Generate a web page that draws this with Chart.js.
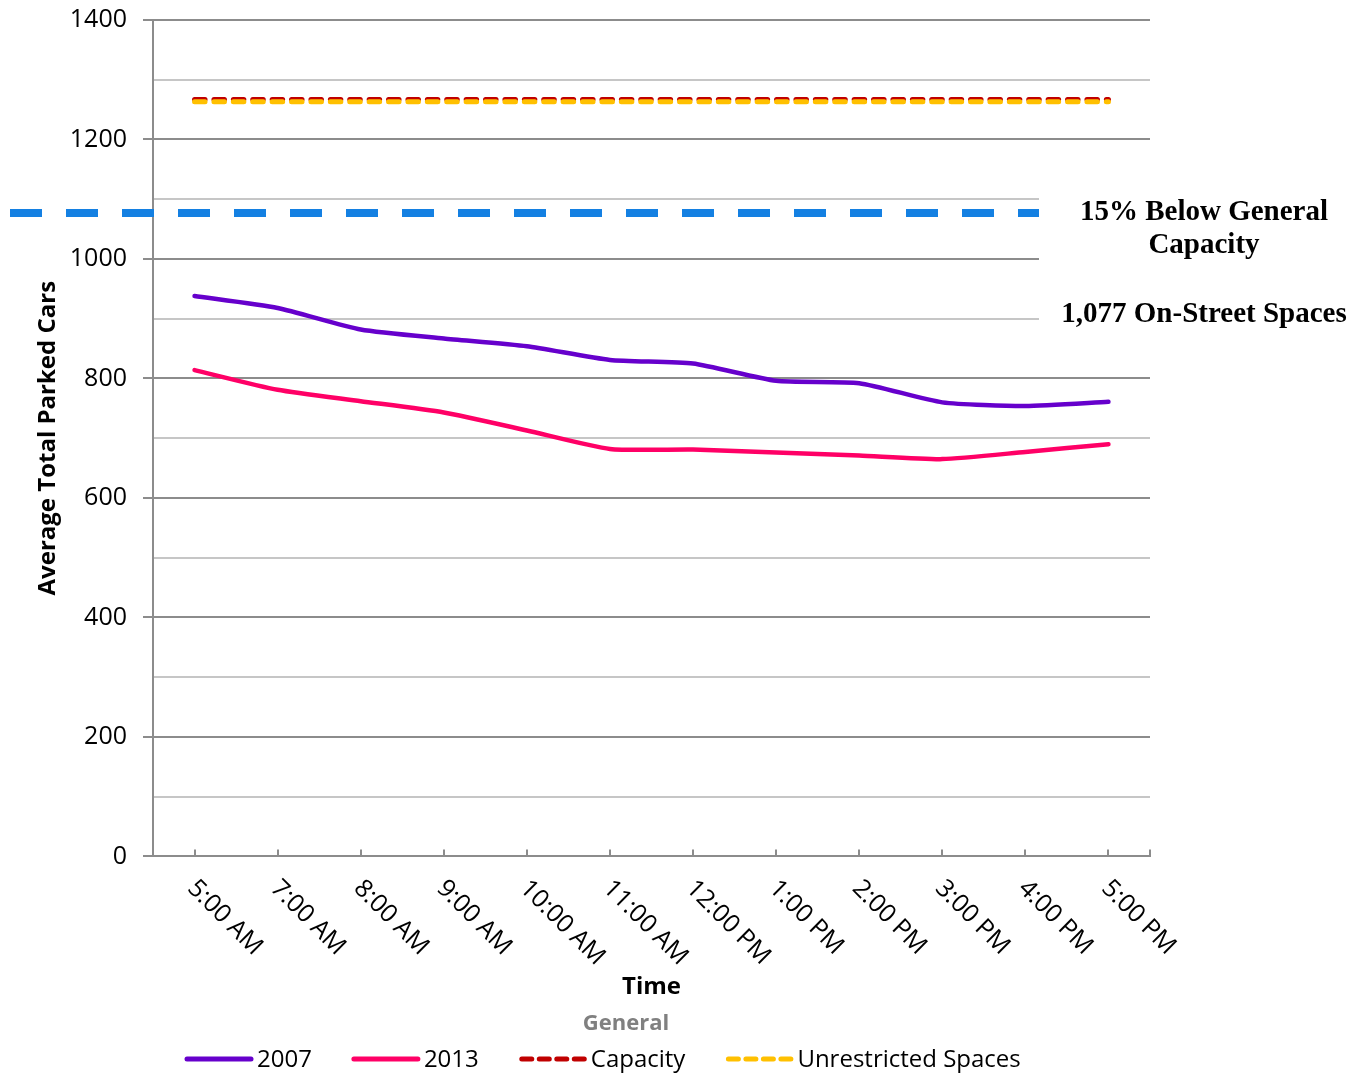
<!DOCTYPE html>
<html>
<head>
<meta charset="utf-8">
<title>General parking occupancy</title>
<script src="https://cdn.jsdelivr.net/npm/chart.js@4.4.1/dist/chart.umd.min.js"></script>
<style>
  html, body { margin: 0; padding: 0; background: #ffffff; }
  #wrap { width: 1351px; height: 1074px; position: relative; }
</style>
</head>
<body>
<div id="wrap"><canvas id="chart" width="1351" height="1074"></canvas></div>
<script>
// Time slots along the x axis
const timeLabels = ['5:00 AM', '7:00 AM', '8:00 AM', '9:00 AM', '10:00 AM', '11:00 AM',
                    '12:00 PM', '1:00 PM', '2:00 PM', '3:00 PM', '4:00 PM', '5:00 PM'];

// Average total parked cars per time slot
const cars2007 = [938, 918, 882, 867, 854, 831, 825, 796, 792, 760, 754, 761];
const cars2013 = [814, 781, 762, 743, 713, 682, 681, 676, 671, 665, 677, 690];

// Reference levels (constant across the day)
const capacitySpaces     = [1267, 1267, 1267, 1267, 1267, 1267, 1267, 1267, 1267, 1267, 1267, 1267];
const unrestrictedSpaces = [1263, 1263, 1263, 1263, 1263, 1263, 1263, 1263, 1263, 1263, 1263, 1263];

// 15% below general capacity
const thresholdSpaces = 1077;

// Value axis
const yMin = 0;
const yMax = 1400;
const yGridStep = 100;
const yLabelStep = 200;

// Side note text
const noteLines = ['15% Below General', 'Capacity'];
const noteSpaces = '1,077 On-Street Spaces';

const FONT = '"Open Sans", "Noto Sans", sans-serif';
const AXIS_GREY = '#8c8c8c';
const MINOR_GREY = '#c6c6c6';

// White backdrop behind the side note (hides the grid there)
const noteBackdrop = {
  id: 'noteBackdrop',
  beforeDatasetsDraw(chart) {
    const { ctx } = chart;
    ctx.save();
    ctx.fillStyle = '#ffffff';
    ctx.fillRect(1039, 178, 312, 158);
    ctx.restore();
  }
};

// Tick marks pointing into the plot on the category axis
const innerTicks = {
  id: 'innerTicks',
  beforeDatasetsDraw(chart) {
    const { ctx, chartArea } = chart;
    const xs = chart.scales.x;
    ctx.save();
    ctx.strokeStyle = AXIS_GREY;
    ctx.lineWidth = 2;
    ctx.beginPath();
    const bottom = chartArea.bottom;
    xs.ticks.forEach((t, i) => {
      const px = Math.round(xs.getPixelForTick(i));
      ctx.moveTo(px, bottom);
      ctx.lineTo(px, bottom - 7);
    });
    ctx.moveTo(chartArea.right, bottom);
    ctx.lineTo(chartArea.right, bottom - 7);
    ctx.stroke();
    ctx.restore();
  }
};

// Slanted category labels, reading downwards to the right
const slantedLabels = {
  id: 'slantedLabels',
  afterDraw(chart) {
    const { ctx, chartArea } = chart;
    const xs = chart.scales.x;
    ctx.save();
    ctx.fillStyle = '#000000';
    ctx.font = '25px ' + FONT;
    ctx.textAlign = 'left';
    ctx.textBaseline = 'middle';
    timeLabels.forEach((lab, i) => {
      const px = xs.getPixelForTick(i);
      ctx.save();
      ctx.translate(px - 3, chartArea.bottom + 28);
      ctx.rotate(Math.PI / 4);
      ctx.fillText(lab, 0, 0);
      ctx.restore();
    });
    ctx.restore();
  }
};

// Dashed 15% threshold line and its note
const thresholdNote = {
  id: 'thresholdNote',
  afterDatasetsDraw(chart) {
    const { ctx } = chart;
    const ys = chart.scales.y;
    const y = Math.round(ys.getPixelForValue(thresholdSpaces));
    ctx.save();
    ctx.strokeStyle = '#1480e2';
    ctx.lineWidth = 8;
    ctx.setLineDash([32, 24]);
    ctx.beginPath();
    ctx.moveTo(10, y);
    ctx.lineTo(1039, y);
    ctx.stroke();
    ctx.setLineDash([]);

    ctx.fillStyle = '#000000';
    ctx.font = 'bold 29px "Liberation Serif", "Times New Roman", serif';
    ctx.textAlign = 'center';
    ctx.textBaseline = 'alphabetic';
    ctx.fillText(noteLines[0], 1204, 220);
    ctx.fillText(noteLines[1], 1204, 253);
    ctx.fillText(noteSpaces, 1204, 322);
    ctx.restore();
  }
};

// Legend block with the "General" heading
const legendBlock = {
  id: 'legendBlock',
  afterDraw(chart) {
    const { ctx } = chart;
    ctx.save();
    ctx.font = 'bold 22px ' + FONT;
    ctx.fillStyle = '#808080';
    ctx.textAlign = 'center';
    ctx.textBaseline = 'middle';
    ctx.fillText('General', 626, 1024);

    ctx.font = '24px ' + FONT;
    ctx.textAlign = 'left';
    const y = 1059;
    let x = 185;
    chart.data.datasets.forEach(ds => {
      ctx.save();
      ctx.strokeStyle = ds.borderColor;
      ctx.lineWidth = 5;
      ctx.lineCap = 'round';
      ctx.beginPath();
      if (ds.borderDash && ds.borderDash.length) {
        ctx.setLineDash([10, 7.5]);
        ctx.moveTo(x + 3, y);
        ctx.lineTo(x + 67, y);
      } else {
        ctx.moveTo(x + 2, y);
        ctx.lineTo(x + 66, y);
      }
      ctx.stroke();
      ctx.restore();
      ctx.fillStyle = '#000000';
      ctx.fillText(ds.label, x + 72, y + 1);
      x += 72 + ctx.measureText(ds.label).width + 40;
    });
    ctx.restore();
  }
};

const ctx = document.getElementById('chart').getContext('2d');
new Chart(ctx, {
  type: 'line',
  data: {
    labels: timeLabels,
    datasets: [
      { label: '2007', data: cars2007, borderColor: '#6600cc', borderWidth: 4.5,
        pointRadius: 0, tension: 0.2, borderJoinStyle: 'round', borderCapStyle: 'round', order: 1 },
      { label: '2013', data: cars2013, borderColor: '#ff0066', borderWidth: 4.5,
        pointRadius: 0, tension: 0.2, borderJoinStyle: 'round', borderCapStyle: 'round', order: 2 },
      { label: 'Capacity', data: capacitySpaces, borderColor: '#c00000', borderWidth: 5,
        borderDash: [10.5, 8.9], borderCapStyle: 'round', pointRadius: 0, order: 4 },
      { label: 'Unrestricted Spaces', data: unrestrictedSpaces, borderColor: '#ffc000', borderWidth: 5,
        borderDash: [10.5, 8.9], borderCapStyle: 'round', pointRadius: 0, order: 3 }
    ]
  },
  options: {
    responsive: false,
    animation: false,
    devicePixelRatio: 1,
    layout: { padding: { left: 0, right: 201, top: 20, bottom: 72.6 } },
    plugins: {
      legend: { display: false },
      tooltip: { enabled: false },
      title: { display: false }
    },
    scales: {
      x: {
        type: 'category',
        offset: true,
        grid: { display: false, drawTicks: false },
        border: { display: true, color: AXIS_GREY, width: 2 },
        ticks: { display: false },
        title: {
          display: true,
          text: 'Time',
          color: '#000000',
          font: { family: FONT, size: 24, weight: 'bold' },
          padding: { top: 116.2, bottom: 0 }
        }
      },
      y: {
        min: yMin,
        max: yMax,
        afterFit(scale) {
          scale.width = 153;
          scale.paddingTop = 0;
          scale.paddingBottom = 0;
        },
        ticks: {
          stepSize: yGridStep,
          color: '#000000',
          padding: 16,
          font: { family: FONT, size: 25 },
          callback: v => (v % yLabelStep === 0 ? String(v) : '')
        },
        grid: {
          color: c => (c.tick && c.tick.value % yLabelStep === 0 ? AXIS_GREY : MINOR_GREY),
          tickColor: c => (c.tick && c.tick.value % yLabelStep === 0 ? AXIS_GREY : 'rgba(0,0,0,0)'),
          lineWidth: 2,
          tickLength: 10
        },
        border: { display: true, color: AXIS_GREY, width: 2 },
        title: {
          display: true,
          text: 'Average Total Parked Cars',
          color: '#000000',
          font: { family: FONT, size: 24, weight: 'bold' },
          padding: { top: 33.6, bottom: 0 }
        }
      }
    }
  },
  plugins: [noteBackdrop, innerTicks, thresholdNote, slantedLabels, legendBlock]
});
</script>
</body>
</html>
